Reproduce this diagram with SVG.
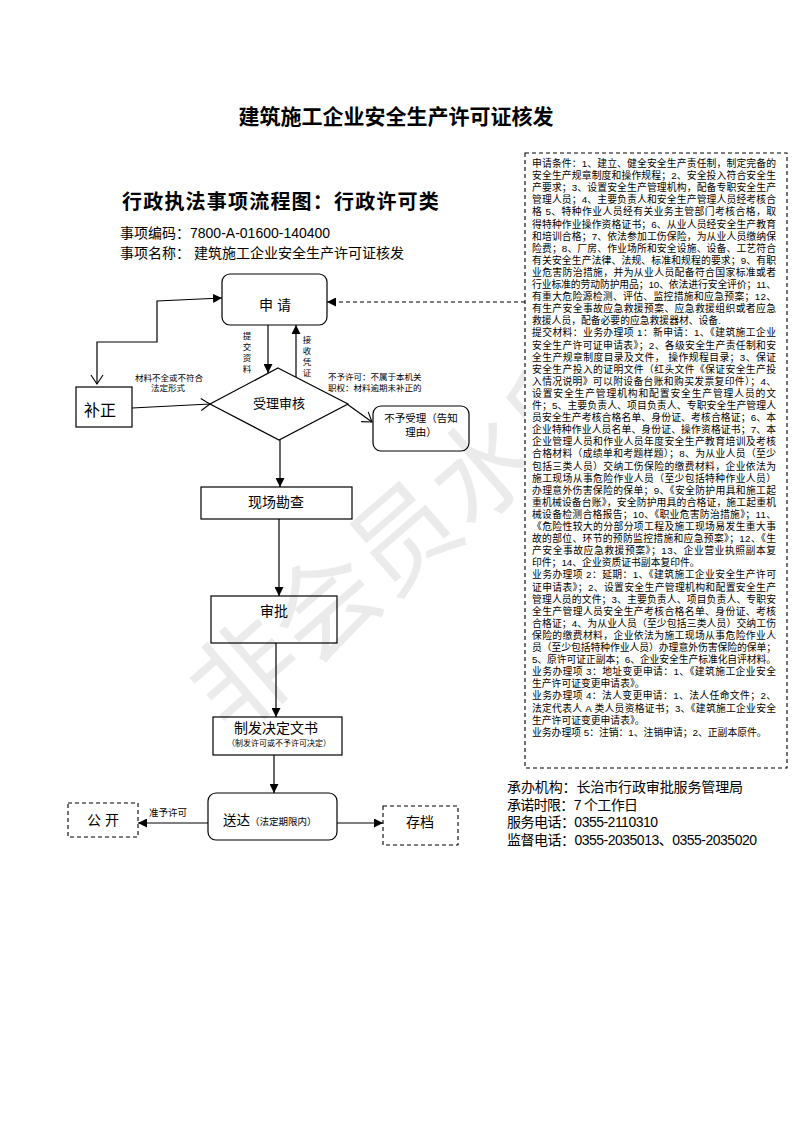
<svg xmlns="http://www.w3.org/2000/svg" width="793" height="1122" viewBox="0 0 793 1122">
<style>
text{font-family:"Liberation Sans","Noto Sans CJK SC",sans-serif;fill:#000}
.box{fill:none;stroke:#000;stroke-width:1.2}
.dash{fill:none;stroke:#000;stroke-width:1.1;stroke-dasharray:4 3}
.ln{fill:none;stroke:#000;stroke-width:1.2}
.c{text-anchor:middle}
.sm{font-size:8.5px}
.bt{font-size:9.8px}
</style>
<defs>
<marker id="af" markerUnits="userSpaceOnUse" markerWidth="9" markerHeight="9" refX="9" refY="4.5" orient="auto"><path d="M0,0 L9,4.5 L0,9 z" fill="#000"/></marker>
<marker id="ao" markerUnits="userSpaceOnUse" markerWidth="12" markerHeight="14" refX="10" refY="7" orient="auto-start-reverse"><path d="M1,1 L10,7 L1,13" fill="none" stroke="#000" stroke-width="1.1"/></marker>
</defs>
<rect width="793" height="1122" fill="#fff"/>
<text transform="translate(245,675) rotate(-41)" x="-52" y="38" style="font-size:105px;fill:#ebebeb;font-family:'Noto Sans CJK SC',sans-serif">非会员水印</text>
<g id="title">
<text x="396" y="124" class="c" style="font-size:21px;font-weight:bold">建筑施工企业安全生产许可证核发</text>
<text x="122" y="209" style="font-size:20px;font-weight:bold;letter-spacing:1.2px">行政执法事项流程图：行政许可类</text>
<text x="120" y="238" style="font-size:14px">事项编码：7800-A-01600-140400</text>
<text x="120" y="258" style="font-size:14px">事项名称： 建筑施工企业安全生产许可证核发</text>
</g>
<g id="connectors">
<path class="ln" d="M268,325 V373" marker-end="url(#af)"/>
<path class="ln" d="M296,377 V325" marker-end="url(#af)"/>
<path class="ln" d="M97,384 V342 H157 V301 L222,298" marker-end="url(#af)" marker-start="url(#ao)"/>
<path class="ln" d="M132,408 L210,404" marker-end="url(#ao)"/>
<path class="ln" d="M347,404 L372,422" marker-end="url(#ao)"/>
<path class="ln" d="M280,440 V487" marker-end="url(#af)"/>
<path class="ln" d="M279,519 V596" marker-end="url(#af)"/>
<path class="ln" d="M276,643 V717" marker-end="url(#af)"/>
<path class="ln" d="M274,755 V793" marker-end="url(#af)"/>
<path class="ln" d="M208,823 H138" marker-end="url(#af)"/>
<path class="ln" d="M337,823 H383" marker-end="url(#af)"/>
<path class="dash" d="M525,302 H327" marker-end="url(#af)"/>
<text class="sm c"><tspan x="247" y="339">提</tspan><tspan x="247" y="350">交</tspan><tspan x="247" y="361">资</tspan><tspan x="247" y="372">料</tspan></text>
<text class="sm c"><tspan x="307" y="343">接</tspan><tspan x="307" y="354">收</tspan><tspan x="307" y="365">凭</tspan><tspan x="307" y="376">证</tspan></text>
<text class="sm c" x="169" y="381">材料不全或不符合</text>
<text class="sm c" x="168" y="391">法定形式</text>
<text class="sm" x="328" y="380">不予许可：不属于本机关</text>
<text class="sm" x="328" y="391">职权：材料逾期未补正的</text>
<text x="168" y="816" style="font-size:9.5px" class="c">准予许可</text>
</g>
<g id="n-apply"><rect class="box" x="222" y="274" width="105" height="51" rx="8"/><text x="275" y="310" class="c" style="font-size:14px">申 请</text></g>
<g id="n-fix"><rect class="box" x="76" y="387" width="56" height="40"/><text x="100" y="416" class="c" style="font-size:16px">补正</text></g>
<g id="n-review"><path class="box" d="M278,368 L348,404 L279,440 L210,404 Z"/><text x="279" y="408" class="c" style="font-size:13px">受理审核</text></g>
<g id="n-reject"><rect class="box" x="373" y="406" width="96" height="45" rx="8"/><text x="421" y="422" class="c" style="font-size:10.5px">不予受理（告知</text><text x="421" y="436" class="c" style="font-size:10.5px">理由）</text></g>
<g id="n-inspect"><rect class="box" x="201" y="487" width="151" height="32"/><text x="276" y="507" class="c" style="font-size:14px">现场勘查</text></g>
<g id="n-approve"><rect class="box" x="211" y="596" width="126" height="47"/><text x="274" y="616" class="c" style="font-size:14px">审批</text></g>
<g id="n-decide"><rect class="box" x="213" y="717" width="129" height="38"/><text x="276" y="733" class="c" style="font-size:14px">制发决定文书</text><text x="279" y="746" class="c" style="font-size:8px">（制发许可或不予许可决定）</text></g>
<g id="n-deliver"><rect class="box" x="208" y="793" width="129" height="47" rx="8"/><text x="223" y="825" style="font-size:13.5px">送达<tspan style="font-size:9.5px">（法定期限内）</tspan></text></g>
<g id="n-public"><rect class="dash" x="68" y="803" width="70" height="34"/><text x="103" y="825" class="c" style="font-size:14px">公 开</text></g>
<g id="n-archive"><rect class="dash" x="383" y="806" width="75" height="39"/><text x="420" y="827" class="c" style="font-size:14px">存档</text></g>
<g id="n-info">
<text x="507" y="792" style="font-size:14px" textLength="236">承办机构：长治市行政审批服务管理局</text>
<text x="507" y="810" style="font-size:14px" textLength="131">承诺时限：7 个工作日</text>
<text x="507" y="827" style="font-size:14px" textLength="151">服务电话：0355-2110310</text>
<text x="507" y="845" style="font-size:14px" textLength="250">监督电话：0355-2035013、0355-2035020</text>
</g>
<g id="n-conditions">
<rect class="dash" x="525" y="153" width="262" height="615" fill="#fff" style="fill:#fff"/>
<g class="bt">
<text x="532" y="167" textLength="244" lengthAdjust="spacing">申请条件：1、建立、健全安全生产责任制，制定完备的</text>
<text x="532" y="179.1" textLength="244" lengthAdjust="spacing">安全生产规章制度和操作规程；2、安全投入符合安全生</text>
<text x="532" y="191.2" textLength="244" lengthAdjust="spacing">产要求；3、设置安全生产管理机构，配备专职安全生产</text>
<text x="532" y="203.3" textLength="244" lengthAdjust="spacing">管理人员；4、主要负责人和安全生产管理人员经考核合</text>
<text x="532" y="215.4" textLength="244" lengthAdjust="spacing">格 5、特种作业人员经有关业务主管部门考核合格，取</text>
<text x="532" y="227.5" textLength="244" lengthAdjust="spacing">得特种作业操作资格证书；6、从业人员经安全生产教育</text>
<text x="532" y="239.6" textLength="244" lengthAdjust="spacing">和培训合格；7、依法参加工伤保险，为从业人员缴纳保</text>
<text x="532" y="251.7" textLength="244" lengthAdjust="spacing">险费；8、厂房、作业场所和安全设施、设备、工艺符合</text>
<text x="532" y="263.8" textLength="244" lengthAdjust="spacing">有关安全生产法律、法规、标准和规程的要求；9、有职</text>
<text x="532" y="275.9" textLength="244" lengthAdjust="spacing">业危害防治措施，并为从业人员配备符合国家标准或者</text>
<text x="532" y="288" textLength="244" lengthAdjust="spacing">行业标准的劳动防护用品；10、依法进行安全评价；11、</text>
<text x="532" y="300.1" textLength="244" lengthAdjust="spacing">有重大危险源检测、评估、监控措施和应急预案；12、</text>
<text x="532" y="312.2" textLength="244" lengthAdjust="spacing">有生产安全事故应急救援预案、应急救援组织或者应急</text>
<text x="532" y="324.3">救援人员，配备必要的应急救援器材、设备.</text>
<text x="532" y="336.4" textLength="244" lengthAdjust="spacing">提交材料：业务办理项 1：新申请：1、《建筑施工企业</text>
<text x="532" y="348.5" textLength="244" lengthAdjust="spacing">安全生产许可证申请表》；2、各级安全生产责任制和安</text>
<text x="532" y="360.6" textLength="244" lengthAdjust="spacing">全生产规章制度目录及文件，  操作规程目录；3、保证</text>
<text x="532" y="372.7" textLength="244" lengthAdjust="spacing">安全生产投入的证明文件（红头文件《保证安全生产投</text>
<text x="532" y="384.8" textLength="244" lengthAdjust="spacing">入情况说明》可以附设备台账和购买发票复印件）；4、</text>
<text x="532" y="396.9" textLength="244" lengthAdjust="spacing">设置安全生产管理机构和配置安全生产管理人员的文</text>
<text x="532" y="409" textLength="244" lengthAdjust="spacing">件；5、主要负责人、项目负责人、专职安全生产管理人</text>
<text x="532" y="421.1" textLength="244" lengthAdjust="spacing">员安全生产考核合格名单、身份证、考核合格证；6、本</text>
<text x="532" y="433.2" textLength="244" lengthAdjust="spacing">企业特种作业人员名单、身份证、操作资格证书；7、本</text>
<text x="532" y="445.3" textLength="244" lengthAdjust="spacing">企业管理人员和作业人员年度安全生产教育培训及考核</text>
<text x="532" y="457.4" textLength="244" lengthAdjust="spacing">合格材料（成绩单和考题样题）；8、为从业人员（至少</text>
<text x="532" y="469.5" textLength="244" lengthAdjust="spacing">包括三类人员）交纳工伤保险的缴费材料，企业依法为</text>
<text x="532" y="481.6" textLength="244" lengthAdjust="spacing">施工现场从事危险作业人员（至少包括特种作业人员）</text>
<text x="532" y="493.7" textLength="244" lengthAdjust="spacing">办理意外伤害保险的保单；9、《安全防护用具和施工起</text>
<text x="532" y="505.8" textLength="244" lengthAdjust="spacing">重机械设备台账》，安全防护用具的合格证，施工起重机</text>
<text x="532" y="517.9" textLength="244" lengthAdjust="spacing">械设备检测合格报告；10、《职业危害防治措施》；11、</text>
<text x="532" y="530" textLength="244" lengthAdjust="spacing">《危险性较大的分部分项工程及施工现场易发生重大事</text>
<text x="532" y="542.1" textLength="244" lengthAdjust="spacing">故的部位、环节的预防监控措施和应急预案》；12、《生</text>
<text x="532" y="554.2" textLength="244" lengthAdjust="spacing">产安全事故应急救援预案》；13、企业营业执照副本复</text>
<text x="532" y="566.3">印件；14、企业资质证书副本复印件。</text>
<text x="532" y="578.4" textLength="244" lengthAdjust="spacing">业务办理项 2：延期：1、《建筑施工企业安全生产许可</text>
<text x="532" y="590.5" textLength="244" lengthAdjust="spacing">证申请表》；2、设置安全生产管理机构和配置安全生产</text>
<text x="532" y="602.6" textLength="244" lengthAdjust="spacing">管理人员的文件；3、主要负责人、项目负责人、专职安</text>
<text x="532" y="614.7" textLength="244" lengthAdjust="spacing">全生产管理人员安全生产考核合格名单、身份证、考核</text>
<text x="532" y="626.8" textLength="244" lengthAdjust="spacing">合格证；4、为从业人员（至少包括三类人员）交纳工伤</text>
<text x="532" y="638.9" textLength="244" lengthAdjust="spacing">保险的缴费材料，企业依法为施工现场从事危险作业人</text>
<text x="532" y="651" textLength="244" lengthAdjust="spacing">员（至少包括特种作业人员）办理意外伤害保险的保单；</text>
<text x="532" y="663.1" textLength="244" lengthAdjust="spacing">5、原许可证正副本；6、企业安全生产标准化自评材料。</text>
<text x="532" y="675.2" textLength="244" lengthAdjust="spacing">业务办理项 3：地址变更申请：1、《建筑施工企业安全</text>
<text x="532" y="687.3">生产许可证变更申请表》。</text>
<text x="532" y="699.4" textLength="244" lengthAdjust="spacing">业务办理项 4：法人变更申请：1、法人任命文件；2、</text>
<text x="532" y="711.5" textLength="244" lengthAdjust="spacing">法定代表人 A 类人员资格证书；3、《建筑施工企业安全</text>
<text x="532" y="723.6">生产许可证变更申请表》。</text>
<text x="532" y="735.7">业务办理项 5：注销：1、注销申请；2、正副本原件。</text>
</g>
</g>
</svg>
